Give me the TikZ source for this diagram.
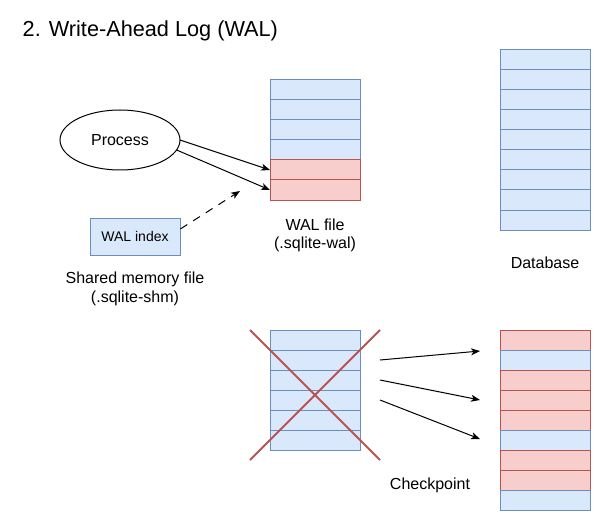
\documentclass[tikz,border=0pt]{standalone}
\usepackage{fontspec}
\setmainfont{Liberation Sans}
\usetikzlibrary{arrows.meta,calc,shapes.geometric}
\definecolor{bfill}{HTML}{DAE8FC}
\definecolor{bline}{HTML}{6C8EBF}
\definecolor{rfill}{HTML}{F8CECC}
\definecolor{rline}{HTML}{B85450}
\tikzset{
  rowb/.style={draw=bline,fill=bfill,line width=1pt,minimum width=90pt,minimum height=20pt,inner sep=0pt,outer sep=0pt},
  rowr/.style={draw=rline,fill=rfill,line width=1pt,minimum width=90pt,minimum height=20pt,inner sep=0pt,outer sep=0pt},
  lbl/.style={inner sep=0pt,align=center,font=\fontsize{16}{18.5}\selectfont},
  arr/.style={line width=1pt,-{Stealth[length=9pt,width=7pt,inset=2.5pt]}},
  crossline/.style={draw=rline,line width=2pt},
}
\begin{document}
\begin{tikzpicture}[x=1pt,y=-1pt]
\useasboundingbox (0,0) rectangle (601,521);
% title
\node[anchor=west,inner sep=0pt,font=\fontsize{21.7}{26}\selectfont] (title) at (22.5,31) {2. Write-Ahead Log (WAL)};
% process
\node[draw,ellipse,line width=1pt,minimum width=120pt,minimum height=60pt,inner sep=0pt,outer sep=0pt,font=\fontsize{16}{19}\selectfont] (proc) at (120,140) {Process};
% WAL index
\node[draw=bline,fill=bfill,line width=1pt,minimum width=90pt,minimum height=37pt,inner sep=0pt,font=\fontsize{14}{17}\selectfont] (idx) at (135,236.5) {WAL index};
\node[lbl] (shm) at (135,289) {Shared memory file\\(.sqlite-shm)};
% top WAL file
\foreach \i/\c in {1/b,2/b,3/b,4/b,5/r,6/r}
  \node[row\c] (w\i) at (315,70+20*\i) {};
\node[lbl] (walf) at (315,235.5) {WAL file\\(.sqlite-wal)};
% top database
\foreach \i in {1,...,9}
  \node[rowb] (d\i) at (545,40+20*\i) {};
\node[lbl] (dbl) at (545,263) {Database};
% bottom WAL
\foreach \i in {1,...,6}
  \node[rowb] (c\i) at (315,320+20*\i) {};
% bottom database
\foreach \i/\c in {1/r,2/b,3/r,4/r,5/r,6/b,7/r,8/r,9/b}
  \node[row\c] (e\i) at (545,320+20*\i) {};
\node[lbl] (chk) at (430,485) {Checkpoint};
% cross
\coordinate (x1) at (250,330);
\coordinate (x2) at (380,460);
\coordinate (x3) at (380,330);
\coordinate (x4) at (250,460);
\draw[crossline] (x1) -- (x2);
\draw[crossline] (x3) -- (x4);
% arrows
\draw[arr] (proc.east) -- (w5.west);
\draw[arr] (proc.-10) -- (w6.west);
\coordinate (dashend) at (240,191);
\draw[arr,dash pattern=on 8pt off 7pt] ($(idx.north east)!0.3!(idx.south east)$) -- (dashend);
\coordinate (s1) at (380,360);
\coordinate (s2) at (380,380);
\coordinate (s3) at (380,400);
\coordinate (t1) at (480,351);
\coordinate (t2) at (480,400);
\coordinate (t3) at (480,439);
\draw[arr] (s1) -- (t1);
\draw[arr] (s2) -- (t2);
\draw[arr] (s3) -- (t3);
\end{tikzpicture}
\end{document}
